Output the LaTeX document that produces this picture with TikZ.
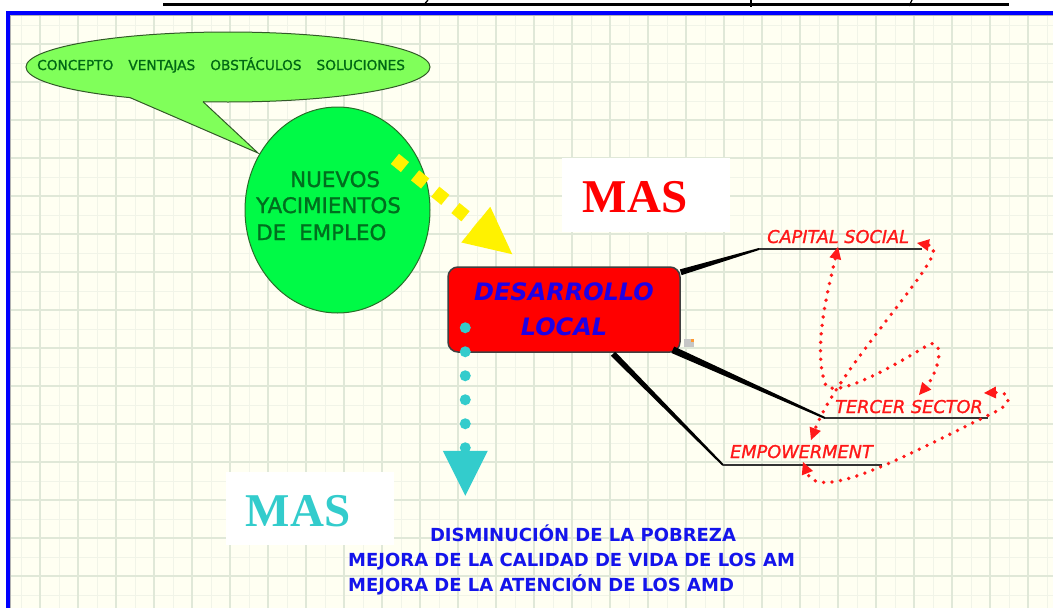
\documentclass[tikz,border=0pt]{standalone}
\usepackage{fontspec}
\setmainfont{DejaVu Sans}
\newfontfamily\masfont{Liberation Serif}
\newfontfamily\semib{DejaVu Sans}[FakeBold=1.2]
\usetikzlibrary{arrows.meta,calc,shapes.geometric}
\definecolor{bgivory}{RGB}{255,255,242}
\definecolor{gridmaj}{RGB}{224,232,216}
\definecolor{gridmin}{RGB}{241,244,232}
\definecolor{frameblue}{RGB}{0,0,255}
\definecolor{bubgreen}{RGB}{128,255,90}
\definecolor{bubborder}{RGB}{50,90,40}
\definecolor{bubtext}{RGB}{0,105,20}
\definecolor{circgreen}{RGB}{0,250,70}
\definecolor{circborder}{RGB}{40,110,40}
\definecolor{circtext}{RGB}{0,110,30}
\definecolor{dlred}{RGB}{255,0,0}
\definecolor{dlblue}{RGB}{30,0,230}
\definecolor{labred}{RGB}{255,25,25}
\definecolor{mascyan}{RGB}{51,204,204}
\definecolor{txtblue}{RGB}{20,20,235}
\begin{document}
\begin{tikzpicture}[x=1pt,y=-1pt,
  circtxt/.style={anchor=base west, inner sep=0pt, text=circtext, font=\semib\fontsize{21.4pt}{26pt}\selectfont},
  dlbox/.style={rectangle, rounded corners=10pt, draw=black!75, line width=1.5pt, fill=dlred,
    minimum width=232pt, minimum height=85pt, inner sep=0pt, align=center, text=dlblue,
    font=\fontsize{24pt}{35pt}\selectfont\bfseries\itshape},
  lab/.style={anchor=base west, inner sep=0pt, text=labred, font=\semib\fontsize{17.7pt}{20pt}\selectfont\itshape},
  uline/.style={black!80, line width=2pt},
  reddot/.style={labred, line width=3.8pt, line cap=round, dash pattern=on 0pt off 8.5pt,
    {Triangle[length=12pt,width=12pt,line width=0pt]}-{Triangle[length=12pt,width=12pt,line width=0pt]}},
  bottxt/.style={inner sep=0pt, text=txtblue, font=\fontsize{18pt}{22pt}\selectfont\bfseries},
  masstyle/.style={inner sep=0pt, font=\masfont\bfseries\fontsize{47pt}{50pt}\selectfont}
]
\useasboundingbox (0,0) rectangle (1053,608);
% background and grid
\fill[white] (0,0) rectangle (1053,608);
\fill[bgivory] (10,15) rectangle (1053,608);
\foreach \x in {21,59,...,1053} \draw[gridmin, line width=1pt] (\x,15) -- (\x,608);
\foreach \y in {25,63,...,608} \draw[gridmin, line width=1pt] (10,\y) -- (1053,\y);
\foreach \x in {40,78,...,1053} \draw[gridmaj, line width=1.5pt] (\x,15) -- (\x,608);
\foreach \y in {44,82,...,608} \draw[gridmaj, line width=1.5pt] (10,\y) -- (1053,\y);
\fill[frameblue] (6,11) rectangle (10,608);
\fill[frameblue] (6,11) rectangle (1053,15);
\draw[gray!60, line width=0.8pt] (10.5,608) -- (10.5,15.5) -- (1053,15.5);
% top black rule with cut-off descenders
\draw[line width=3pt] (163,4.5) -- (1009,4.5);
\draw[line width=1.3pt] (428,0) -- (425,3.5);
\draw[line width=1.3pt] (751,0) -- (751,6.5);
\draw[line width=1.3pt] (912,0) -- (909,6);

% speech bubble
\node[ellipse, draw=bubborder, fill=bubgreen, line width=1pt, minimum width=404pt, minimum height=70pt, inner sep=0pt] (bubble) at (228,67) {};
\fill[bubgreen] (130,92) -- (130,97.6) -- (258,153) -- (203,101.7) -- (203,95) -- cycle;
\draw[bubborder, line width=1pt] (130,97.6) -- (258,153) -- (203,101.7);
\node[anchor=base west, inner sep=0pt, text=bubtext, font=\semib\fontsize{13.7pt}{16pt}\selectfont] (bubtxt) at (37,70)
  {CONCEPTO\hspace{15pt}VENTAJAS\hspace{15pt}OBSTÁCULOS\hspace{15pt}SOLUCIONES};

% green circle
\node[ellipse, draw=circborder, fill=circgreen, line width=1pt, minimum width=185pt, minimum height=206pt, inner sep=0pt] (nye) at (337.5,210) {};
\node[circtxt] (nye1) at (290,187) {NUEVOS};
\node[circtxt] (nye2) at (256,213) {YACIMIENTOS};
\node[circtxt] (nye3) at (256,240) {DE\hspace{13pt}EMPLEO};

% MAS red
\fill[white] (562,158) rectangle (730,232);
\node[masstyle, text=red] (masR) at (635,197) {MAS};

% desarrollo local
\node[dlbox] (dl) at (564,309.5) {DESARROLLO\\LOCAL};
\fill[gray!45] (684,339) rectangle (694,347);
\fill[orange!80] (691,339) rectangle (694,342);

% yellow arrow
\coordinate (yS) at ($(nye.center)+(57.4,-51.1)$);
\coordinate (yT) at ($(dl.north west)+(65,-12)$);
\draw[yellow, line width=13pt, dash pattern=on 13pt off 13pt, -{Triangle[length=47pt,width=46pt,line width=0pt]}] (yS) -- (yT);

% cyan arrow
\coordinate (cyS) at ($(dl.south west)+(18,-25)$);
\coordinate (cyT) at ($(dl.south west)+(18,143)$);
\draw[mascyan, line width=11pt, line cap=round, dash pattern=on 0pt off 24pt, -{Triangle[length=45pt,width=45pt,line width=0pt]}] (cyS) -- (cyT);

% branches
\coordinate (dlcs) at ($(dl.north east)+(0,6)$);
\coordinate (dlts) at ($(dl.south east)+(-8,-3)$);
\coordinate (dlem) at ($(dl.south)+(49,1)$);
\coordinate (csA) at (759,249);
\coordinate (csB) at (922,249);
\coordinate (tsA) at (825,418);
\coordinate (tsB) at (988,418);
\coordinate (emA) at (723,465);
\coordinate (emB) at (882,465);
\fill[black] ($(dlcs)!3pt!90:(csA)$) -- ($(csA)!1pt!-90:(dlcs)$) -- ($(csA)!1pt!90:(dlcs)$) -- ($(dlcs)!3pt!-90:(csA)$) -- cycle;
\fill[black] ($(dlts)!3.5pt!90:(tsA)$) -- ($(tsA)!1pt!-90:(dlts)$) -- ($(tsA)!1pt!90:(dlts)$) -- ($(dlts)!3.5pt!-90:(tsA)$) -- cycle;
\fill[black] ($(dlem)!3pt!90:(emA)$) -- ($(emA)!1pt!-90:(dlem)$) -- ($(emA)!1pt!90:(dlem)$) -- ($(dlem)!3pt!-90:(emA)$) -- cycle;
\draw[uline] (csA) -- (csB);
\draw[uline] (tsA) -- (tsB);
\draw[uline] (emA) -- (emB);
\node[lab] (cs) at (767,243) {CAPITAL SOCIAL};
\node[lab] (ts) at (835,413) {TERCER SECTOR};
\node[lab] (em) at (730,458) {EMPOWERMENT};

% red dotted double arrows
\coordinate (aS) at (838,247);
\coordinate (aM) at (826,386);
\coordinate (aN) at (928,345);
\coordinate (aE) at (919,395);
\coordinate (bS) at (917,243);
\coordinate (bM) at (915,283);
\coordinate (bE) at (811,440);
\coordinate (cS) at (984,393);
\coordinate (cM) at (995,412);
\coordinate (cE) at (803,462);
\draw[reddot] (aS) .. controls (828,290) and (812,350) .. (aM) .. controls (840,398) and (900,362) .. (aN) .. controls (945,336) and (940,370) .. (aE);
\draw[reddot] (bS) .. controls (940,247) and (930,262) .. (bM) .. controls (880,330) and (830,390) .. (bE);
\draw[reddot] (cS) .. controls (1010,392) and (1015,402) .. (cM) .. controls (920,448) and (820,505) .. (cE);

% MAS cyan
\fill[white] (226,472) rectangle (394,545);
\node[masstyle, text=mascyan] (masC) at (298,511) {MAS};

% bottom text
\node[bottxt, anchor=base] (t1) at (583,541) {DISMINUCIÓN DE LA POBREZA};
\node[bottxt, anchor=base west] (t2) at (348,566) {MEJORA DE LA CALIDAD DE VIDA DE LOS AM};
\node[bottxt, anchor=base west] (t3) at (348,591) {MEJORA DE LA ATENCIÓN DE LOS AMD};
\end{tikzpicture}
\end{document}
